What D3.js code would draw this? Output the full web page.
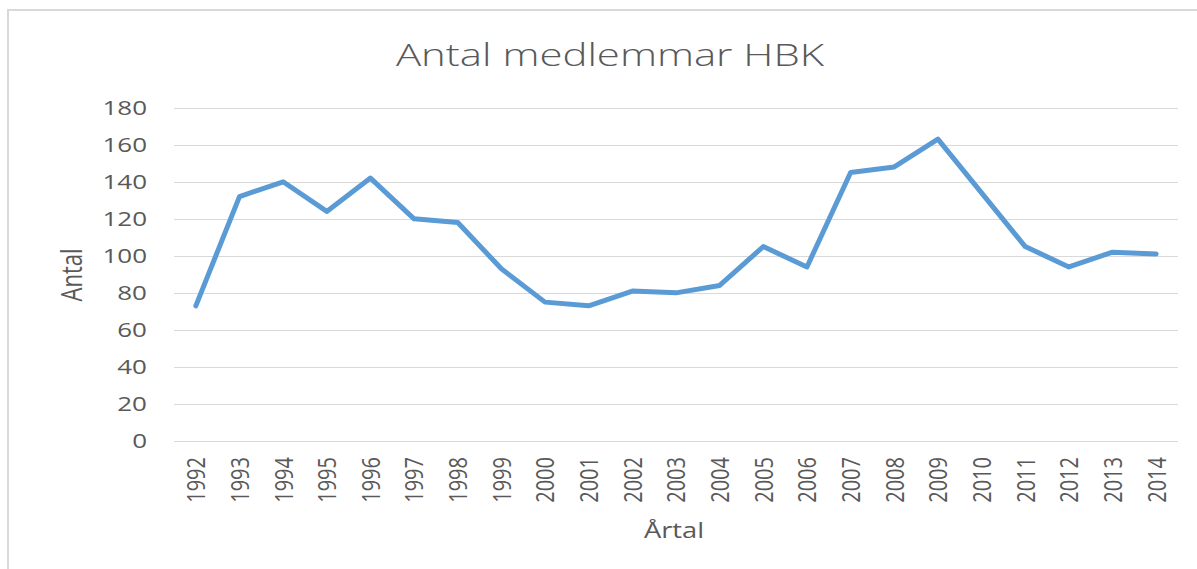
<!DOCTYPE html>
<html>
<head>
<meta charset="utf-8">
<script src="https://cdn.jsdelivr.net/npm/d3@7"></script>
<style>
  body { margin: 0; background: #fff; }
  text { font-family: "Open Sans", "Liberation Sans", sans-serif; fill: #595959; }
</style>
</head>
<body>
<svg id="chart" width="1197" height="569"></svg>
<script>
    var years = ["1992", "1993", "1994", "1995", "1996", "1997", "1998", "1999", "2000", "2001", "2002",
                 "2003", "2004", "2005", "2006", "2007", "2008", "2009", "2010", "2011", "2012", "2013", "2014"];
    var members = [73, 132, 140, 124, 142, 120, 118, 93, 75, 73, 81,
                   80, 84, 105, 94, 145, 148, 163, 134, 105, 94, 102, 101];
    var yTicks = [0, 20, 40, 60, 80, 100, 120, 140, 160, 180];

    var titleText = "Antal medlemmar HBK";
    var yLabel = "Antal";
    var xLabel = "Årtal";

    var plotLeft = 174, plotRight = 1178, plotTop = 107.7, plotBottom = 441;
    var stretch = 1.3; // the original picture is a bit wider than tall

    var svg = d3.select("#chart");

    // frame (only top and left edges are visible in the picture)
    svg.append("path")
        .attr("d", "M8,600 L8,10 L1200,10")
        .attr("fill", "none")
        .attr("stroke", "#d9d9d9")
        .attr("stroke-width", 2);

    var xScale = d3.scalePoint()
        .domain(years)
        .range([plotLeft, plotRight])
        .padding(0.5);

    var yScale = d3.scaleLinear()
        .domain([0, 180])
        .range([plotBottom, plotTop]);

    // gridlines
    svg.append("g")
        .selectAll("line")
        .data(yTicks)
        .enter()
        .append("line")
        .attr("x1", plotLeft)
        .attr("x2", plotRight)
        .attr("y1", d => Math.round(yScale(d)) + 0.5)
        .attr("y2", d => Math.round(yScale(d)) + 0.5)
        .attr("stroke", "#d9d9d9")
        .attr("stroke-width", 1);

    // y tick labels
    svg.append("g")
        .selectAll("g")
        .data(yTicks)
        .enter()
        .append("g")
        .attr("transform", d => "translate(147," + yScale(d) + ") scale(" + stretch + ",1)")
        .append("text")
        .attr("text-anchor", "end")
        .attr("dy", "0.36em")
        .style("font-size", "20px")
        .text(d => d);

    // x tick labels, rotated
    svg.append("g")
        .selectAll("g")
        .data(years)
        .enter()
        .append("g")
        .attr("transform", d => "translate(" + xScale(d) + ",457) scale(" + stretch + ",1) rotate(-90)")
        .append("text")
        .attr("text-anchor", "end")
        .attr("dy", "0.36em")
        .style("font-size", "20px")
        .text(d => d);

    // the line
    var line = d3.line()
        .x((d, i) => xScale(years[i]))
        .y(d => yScale(d));

    svg.append("path")
        .datum(members)
        .attr("d", line)
        .attr("fill", "none")
        .attr("stroke", "#5b9bd5")
        .attr("stroke-width", 5)
        .attr("stroke-linejoin", "round")
        .attr("stroke-linecap", "round");

    // title
    svg.append("g")
        .attr("transform", "translate(610,66) scale(1.31,1)")
        .append("text")
        .attr("text-anchor", "middle")
        .style("font-size", "32px")
        .style("font-weight", 300)
        .text(titleText);

    // axis titles
    svg.append("g")
        .attr("transform", "translate(72,275) scale(" + stretch + ",1) rotate(-90)")
        .append("text")
        .attr("text-anchor", "middle")
        .attr("dy", "0.36em")
        .style("font-size", "22px")
        .text(yLabel);

    svg.append("g")
        .attr("transform", "translate(674,538) scale(" + stretch + ",1)")
        .append("text")
        .attr("text-anchor", "middle")
        .style("font-size", "21px")
        .text(xLabel);
</script>
</body>
</html>
